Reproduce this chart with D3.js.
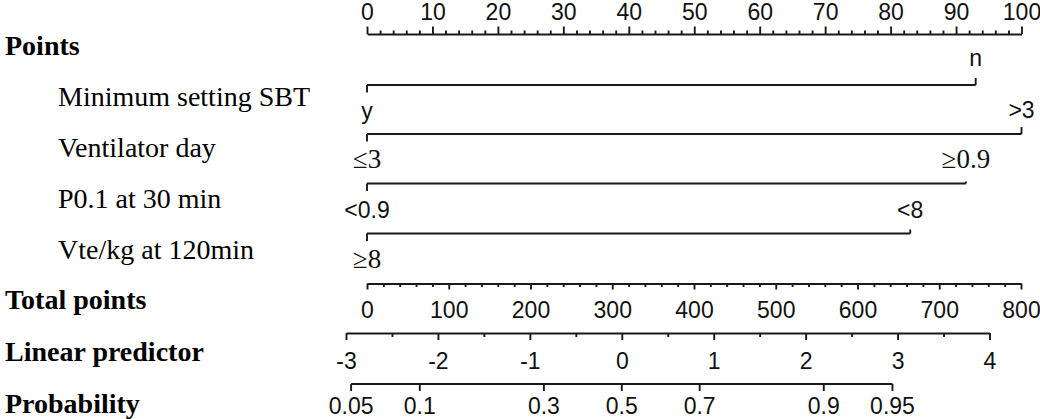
<!DOCTYPE html>
<html>
<head>
<meta charset="utf-8">
<script src="https://cdn.jsdelivr.net/npm/d3@7"></script>
<style>
  html, body { margin: 0; padding: 0; background: #fff; }
  svg { display: block; }
  .axis path, .axis line { stroke: #1a1a1a; stroke-width: 1.9; }
  .axis text { font-family: "Liberation Sans Narrow", "Arial Narrow", "Liberation Sans", Arial, sans-serif; font-size: 23px; fill: #111; }
  .rowlab { font-family: "Liberation Serif", "Times New Roman", serif; font-size: 28px; fill: #000; }
  .rowlab.bold { font-weight: bold; }
  .lvl { fill: #111; }
  .sans { font-family: "Liberation Sans Narrow", "Arial Narrow", "Liberation Sans", Arial, sans-serif; font-size: 23px; }
  .serif { font-family: "Liberation Serif", "Times New Roman", serif; font-size: 27px; }
</style>
</head>
<body>
<div id="chart"></div>
<script>
const W = 1040, H = 419;

// data
const pointTicks = [0, 10, 20, 30, 40, 50, 60, 70, 80, 90, 100];
const pointMinor = [2, 4, 6, 8, 12, 14, 16, 18, 22, 24, 26, 28, 32, 34, 36, 38, 42, 44, 46, 48,
  52, 54, 56, 58, 62, 64, 66, 68, 72, 74, 76, 78, 82, 84, 86, 88, 92, 94, 96, 98];

const variables  = ['Minimum setting SBT', 'Ventilator day', 'P0.1 at 30 min', 'Vte/kg at 120min'];
const levelLow   = ['y', '≤3', '<0.9', '≥8'];
const levelHigh  = ['n', '>3', '≥0.9', '<8'];
const lowPoints  = [0, 0, 0, 0];
const highPoints = [93, 100, 91.5, 83];
// which level labels are typeset in serif in the original
const lowSerif   = [false, true, false, true];
const highSerif  = [false, false, true, false];

const totalTicks = [0, 100, 200, 300, 400, 500, 600, 700, 800];
const totalMinor = [20, 40, 60, 80, 120, 140, 160, 180, 220, 240, 260, 280, 320, 340, 360, 380,
  420, 440, 460, 480, 520, 540, 560, 580, 620, 640, 660, 680, 720, 740, 760, 780];

const lpTicks = [-3, -2, -1, 0, 1, 2, 3, 4];
const lpMinor = [-2.5, -1.5, -0.5, 0.5, 1.5, 2.5, 3.5];

const probTicks = [0.05, 0.1, 0.3, 0.5, 0.7, 0.9, 0.95];

const sectionLabels = ['Points', 'Total points', 'Linear predictor', 'Probability'];

// layout
const rowBase = [55, 106, 157, 208, 259, 309, 361, 413];
const pointsY = 34, varY = [85, 134, 183.5, 233.5], totalY = 283.5, lpY = 333, probY = 384;

const xPts = d3.scaleLinear().domain([0, 100]).range([367, 1021.5]);
const xTot = d3.scaleLinear().domain([0, 800]).range([367, 1021]);
const xLp  = d3.scaleLinear().domain([-3, 4]).range([346, 989.5]);
const logit = p => Math.log(p / (1 - p));

const svg = d3.select('#chart').append('svg').attr('width', W).attr('height', H);

function axisPair(scale, y, axisFn, major, minor, majorLen, minorLen, pad) {
  const g = svg.append('g').attr('class', 'axis').attr('transform', `translate(0,${y})`);
  if (minor) {
    g.append('g').call(axisFn(scale).tickValues(minor).tickSize(minorLen).tickSizeOuter(0).tickFormat(''))
      .select('.domain').remove();
  }
  g.append('g').call(axisFn(scale).tickValues(major).tickSize(majorLen).tickSizeOuter(0)
    .tickPadding(pad).tickFormat(d => d));
  return g;
}

// Points axis (top)
axisPair(xPts, pointsY, d3.axisTop, pointTicks, pointMinor, 7.5, 3.5, 6.5);

// variable lines
variables.forEach((v, i) => {
  const y = varY[i];
  const x0 = xPts(lowPoints[i]), x1 = xPts(highPoints[i]);
  const g = svg.append('g').attr('class', 'axis');
  g.append('line').attr('x1', x0).attr('x2', x1).attr('y1', y).attr('y2', y);
  g.append('line').attr('x1', x0).attr('x2', x0).attr('y1', y).attr('y2', y + 7.5);
  const upLen = [7, 7, 2, 4][i];
  g.append('line').attr('x1', x1).attr('x2', x1).attr('y1', y).attr('y2', y - upLen);

  svg.append('text').attr('class', 'lvl ' + (lowSerif[i] ? 'serif' : 'sans'))
    .attr('x', x0).attr('y', y + 34).attr('text-anchor', 'middle').text(levelLow[i]);
  svg.append('text').attr('class', 'lvl ' + (highSerif[i] ? 'serif' : 'sans'))
    .attr('x', x1).attr('y', y - (i === 0 ? 19 : 16)).attr('text-anchor', 'middle').text(levelHigh[i]);
});

// Total points axis
axisPair(xTot, totalY, d3.axisBottom, totalTicks, totalMinor, 6, 3.5, 12);

// Linear predictor axis
axisPair(xLp, lpY, d3.axisBottom, lpTicks, lpMinor, 7, 4, 12.5);

// Probability axis
const xProb = p => xLp(logit(p));
const pg = svg.append('g').attr('class', 'axis').attr('transform', `translate(0,${probY})`);
pg.append('line').attr('x1', xProb(probTicks[0])).attr('x2', xProb(probTicks[probTicks.length - 1]))
  .attr('y1', 0).attr('y2', 0);
const pt = pg.selectAll('g.tick').data(probTicks).join('g').attr('class', 'tick')
  .attr('transform', d => `translate(${xProb(d)},0)`);
pt.append('line').attr('y2', 7);
pt.append('text').attr('y', 14).attr('dy', '0.71em').attr('text-anchor', 'middle').text(d => d);

// row labels
const allLabels = [
  { t: sectionLabels[0], x: 5, b: true },
  ...variables.map(v => ({ t: v, x: 58, b: false })),
  { t: sectionLabels[1], x: 5, b: true },
  { t: sectionLabels[2], x: 5, b: true },
  { t: sectionLabels[3], x: 5, b: true }
];
svg.selectAll('text.rowlab').data(allLabels).join('text')
  .attr('class', d => 'rowlab' + (d.b ? ' bold' : ''))
  .attr('x', d => d.x).attr('y', (d, i) => rowBase[i])
  .text(d => d.t);
</script>
</body>
</html>
